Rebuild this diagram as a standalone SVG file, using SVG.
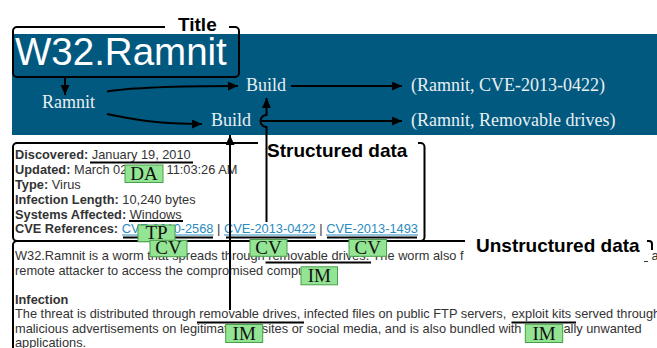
<svg xmlns="http://www.w3.org/2000/svg" width="657" height="348" viewBox="0 0 657 348">
  <defs>
    <marker id="arrow" markerUnits="userSpaceOnUse" markerWidth="10" markerHeight="9" refX="10" refY="4.5" orient="auto" viewBox="0 0 10 9">
      <path d="M0,0 L10,4.5 L0,9 z" fill="#000"/>
    </marker>
    <style>
      .body{font-family:'Liberation Sans',Arial,sans-serif;font-size:12.8px;fill:#333}
      .b{font-weight:bold}
      .link{fill:#2a8bbf}
      .node{font-family:'Liberation Serif','Times New Roman',serif;font-size:18px;fill:#e8eff3}
      .head{font-family:'Liberation Sans',Arial,sans-serif;font-weight:bold;font-size:19px;fill:#000}
      .frame{fill:none;stroke:#000;stroke-width:2}
      .conn{fill:none;stroke:#000;stroke-width:2;marker-end:url(#arrow)}
      .ul{stroke:#000;stroke-width:2}
      .lul{stroke:#2a8bbf;stroke-width:1}
      .tag rect{fill:#93e493;stroke:#4aa04a;stroke-width:1}
      .tag text{font-family:'Liberation Serif','Times New Roman',serif;font-size:19px;fill:#111;text-anchor:middle}
    </style>
  </defs>

  <!-- header banner -->
  <rect id="banner" x="12" y="34" width="645" height="101" fill="#02597f"/>

  <!-- title block -->
  <g id="title">
    <path class="frame" d="M165,27 H17 A4,4 0 0 0 13,31 V73 A4,4 0 0 0 17,77 H235 A4,4 0 0 0 239,73 V31 A4,4 0 0 0 235,27 H229"/>
    <text class="head" x="178" y="31">Title</text>
    <text x="15" y="65" font-family="'Liberation Sans',Arial,sans-serif" font-size="38.5" fill="#fff">W32.Ramnit</text>
  </g>

  <g id="ramnit"><text class="node" x="68.5" y="108" text-anchor="middle">Ramnit</text></g>
  <g id="build-cve"><text class="node" x="246" y="90.5">Build</text></g>
  <g id="build-drives"><text class="node" x="211" y="126">Build</text></g>
  <g id="tuple-cve"><text class="node" x="411" y="91">(Ramnit, CVE-2013-0422)</text></g>
  <g id="tuple-drives"><text class="node" x="411" y="126">(Ramnit, Removable drives)</text></g>

  <!-- structured data block -->
  <g id="structured">
    <path class="frame" d="M258,143 H17 A4,4 0 0 0 13,147 V237 A4,4 0 0 0 17,241 H420.5 A4,4 0 0 0 424.5,237 V147 A4,4 0 0 0 420.5,143 H418"/>
    <text class="head" x="267" y="157">Structured data</text>
    <text class="body" x="15" y="159.4"><tspan class="b">Discovered:</tspan> January 19, 2010</text>
    <text class="body" x="15" y="174.2"><tspan class="b">Updated:</tspan> March 02, 2010 11:03:26 AM</text>
    <text class="body" x="15" y="189"><tspan class="b">Type:</tspan> Virus</text>
    <text class="body" x="15" y="203.8"><tspan class="b">Infection Length:</tspan> 10,240 bytes</text>
    <text class="body" x="15" y="218.6"><tspan class="b">Systems Affected:</tspan> Windows</text>
    <text class="body" x="15" y="233.4"><tspan class="b">CVE References:</tspan> <tspan class="link">CVE-2010-2568</tspan> | <tspan class="link">CVE-2013-0422</tspan> | <tspan class="link">CVE-2013-1493</tspan></text>
    <line class="lul" x1="122" y1="235" x2="213.5" y2="235"/>
    <line class="lul" x1="224" y1="235" x2="316" y2="235"/>
    <line class="lul" x1="326" y1="235" x2="418" y2="235"/>
  </g>

  <!-- unstructured data block -->
  <g id="unstructured">
    <path class="frame" d="M465,241 H17 A4,4 0 0 0 13,245 V350"/>
    <path class="frame" d="M647,241 H649 A3,3 0 0 1 652,244 V250"/>
    <text class="head" x="476" y="252">Unstructured data</text>
    <text class="body" x="15" y="260">W32.Ramnit is a worm that spreads through removable drives. The worm also f</text>
    <text class="body" x="651.5" y="260">a</text>
    <line x1="644" y1="261.5" x2="648" y2="261.5" stroke="#333" stroke-width="1"/>
    <text class="body" x="15" y="274.5">remote attacker to access the compromised computer.</text>
    <text class="body b" x="15" y="303.5">Infection</text>
    <text class="body" x="15" y="318">The threat is distributed through removable drives, infected files on public FTP servers, <tspan x="511.5">exploit kits served through</tspan></text>
    <text class="body" x="15" y="332.5">malicious advertisements on legitimate websites or social media, and is also bundled with potentially unwanted</text>
    <text class="body" x="15" y="347">applications.</text>
  </g>

  <!-- annotated spans -->
  <g id="underlines">
    <line class="ul" x1="90" y1="162.5" x2="193" y2="162.5"/>
    <line class="ul" x1="129" y1="221" x2="183" y2="221"/>
    <line class="ul" x1="123" y1="237.5" x2="213" y2="237.5"/>
    <line class="ul" x1="226" y1="237.5" x2="316" y2="237.5"/>
    <line class="ul" x1="327" y1="237.5" x2="417" y2="237.5"/>
    <line class="ul" x1="265.5" y1="262.5" x2="371" y2="262.5"/>
    <line class="ul" x1="197" y1="322.5" x2="304" y2="322.5"/>
    <line class="ul" x1="511.5" y1="322.5" x2="576" y2="322.5"/>
  </g>

  <!-- connectors -->
  <g id="connectors">
    <path class="conn" d="M65,77 V95"/>
    <path class="conn" d="M107,91.5 C135,87 175,86 238,86"/>
    <path class="conn" d="M107,114 C135,120 160,124 202,124"/>
    <path class="conn" d="M291,86 H402"/>
    <path class="conn" d="M260,121 H402"/>
    <path class="conn" d="M266.5,222 V127 A6,6 0 0 1 266.5,115 V98"/>
    <path class="conn" d="M230,310 V135"/>
  </g>

  <!-- entity tags -->
  <g id="tag-da" class="tag"><rect x="125" y="165" width="38" height="17.5"/><text x="144" y="179.8">DA</text></g>
  <g id="tag-tp" class="tag"><rect x="138" y="225" width="37" height="16.8"/><text x="156.5" y="239">TP</text></g>
  <g id="tag-cv1" class="tag"><rect x="150" y="240.3" width="37" height="16.4"/><text x="168.5" y="254">CV</text></g>
  <g id="tag-cv2" class="tag"><rect x="250" y="239.5" width="37" height="16.8"/><text x="268.5" y="253.5">CV</text></g>
  <g id="tag-cv3" class="tag"><rect x="349" y="239.5" width="37.5" height="16.8"/><text x="367.75" y="253.5">CV</text></g>
  <g id="tag-im1" class="tag"><rect x="301" y="266.8" width="36.5" height="18"/><text x="319.25" y="282.3">IM</text></g>
  <g id="tag-im2" class="tag"><rect x="225.7" y="324.5" width="37" height="18"/><text x="244.2" y="339.8">IM</text></g>
  <g id="tag-im3" class="tag"><rect x="525.3" y="324.3" width="37.4" height="18.2"/><text x="544" y="339.8">IM</text></g>
</svg>
